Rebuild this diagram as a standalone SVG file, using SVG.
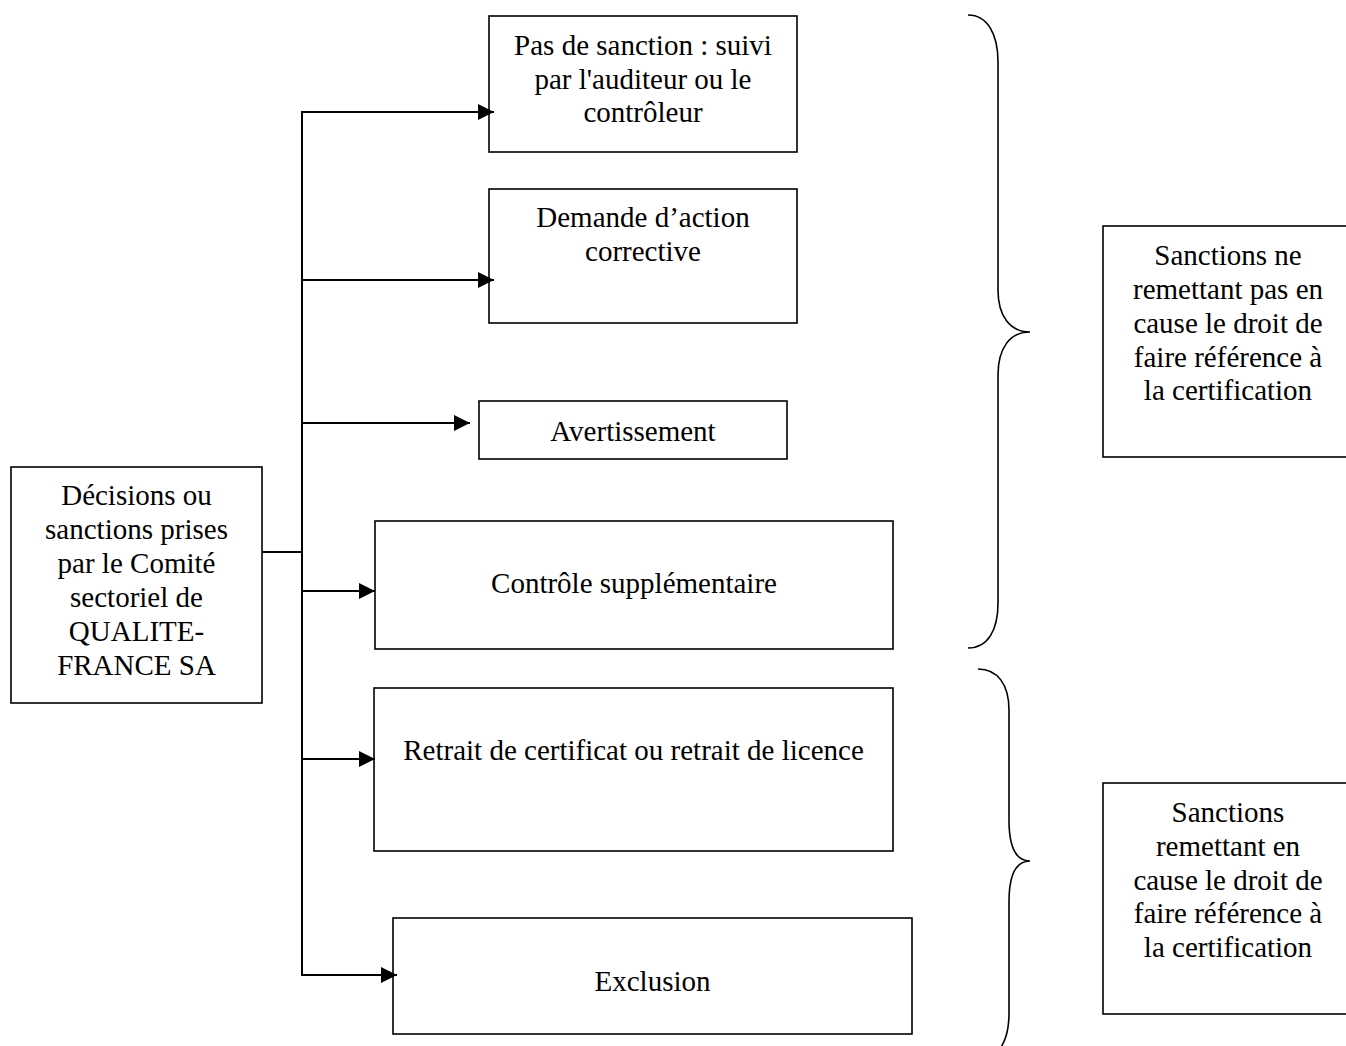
<svg xmlns="http://www.w3.org/2000/svg" width="1346" height="1046" viewBox="0 0 1346 1046">
<style>
.box{fill:#fff;stroke:#000;stroke-width:1.6}
.t{font-family:"Liberation Serif","Times New Roman",serif;font-size:29px;fill:#000;text-anchor:middle}
.c{fill:none;stroke:#000;stroke-width:2}
.br{fill:none;stroke:#000;stroke-width:1.6}
</style>
<defs>
<marker id="ah" markerWidth="18" markerHeight="18" refX="16" refY="9" orient="auto" markerUnits="userSpaceOnUse" overflow="visible">
<path d="M0,1 L16,9 L0,17 Z" fill="#000"/>
</marker>
</defs>
<rect width="1346" height="1046" fill="#fff"/>

<g id="source">
<rect class="box" x="11" y="467" width="251" height="236"/>
<text class="t" x="136.5" y="505">Décisions ou</text>
<text class="t" x="136.5" y="539">sanctions prises</text>
<text class="t" x="136.5" y="573">par le Comité</text>
<text class="t" x="136.5" y="607">sectoriel de</text>
<text class="t" x="136.5" y="641">QUALITE-</text>
<text class="t" x="136.5" y="675">FRANCE SA</text>
</g>

<g id="pas-de-sanction">
<rect class="box" x="489" y="16" width="308" height="136"/>
<text class="t" x="643" y="55">Pas de sanction : suivi</text>
<text class="t" x="643" y="89">par l'auditeur ou le</text>
<text class="t" x="643" y="122">contrôleur</text>
</g>

<g id="demande">
<rect class="box" x="489" y="189" width="308" height="134"/>
<text class="t" x="643" y="227">Demande d’action</text>
<text class="t" x="643" y="261">corrective</text>
</g>

<g id="avertissement">
<rect class="box" x="479" y="401" width="308" height="58"/>
<text class="t" x="633" y="441">Avertissement</text>
</g>

<g id="controle">
<rect class="box" x="375" y="521" width="518" height="128"/>
<text class="t" x="634" y="593">Contrôle supplémentaire</text>
</g>

<g id="retrait">
<rect class="box" x="374" y="688" width="519" height="163"/>
<text class="t" x="633.5" y="760">Retrait de certificat ou retrait de licence</text>
</g>

<g id="exclusion">
<rect class="box" x="393" y="918" width="519" height="116"/>
<text class="t" x="652.5" y="991">Exclusion</text>
</g>

<g id="brace-1">
<path class="br" d="M968,15 C988,15 998,35 998,62 L998,290 C998,316 1010,332 1030,332 C1010,332 998,348 998,375 L998,603 C998,630 988,648 968,648"/>
</g>

<g id="brace-2">
<path class="br" d="M978,669 C998,669 1009,685 1009,710 L1009,820 C1009,845 1015,861 1030,861 C1015,861 1009,877 1009,902 L1009,1012 C1009,1032 1005,1042 998,1052"/>
</g>

<g id="groupe-1">
<rect class="box" x="1103" y="226" width="260" height="231"/>
<text class="t" x="1228" y="265">Sanctions ne</text>
<text class="t" x="1228" y="299">remettant pas en</text>
<text class="t" x="1228" y="333">cause le droit de</text>
<text class="t" x="1228" y="367">faire référence à</text>
<text class="t" x="1228" y="400">la certification</text>
</g>

<g id="groupe-2">
<rect class="box" x="1103" y="783" width="260" height="231"/>
<text class="t" x="1228" y="822">Sanctions</text>
<text class="t" x="1228" y="856">remettant en</text>
<text class="t" x="1228" y="890">cause le droit de</text>
<text class="t" x="1228" y="923">faire référence à</text>
<text class="t" x="1228" y="957">la certification</text>
</g>

<g id="connectors">
<line class="c" x1="262" y1="552" x2="302" y2="552"/>
<line class="c" x1="302" y1="111" x2="302" y2="976"/>
<line class="c" x1="301" y1="112" x2="494" y2="112" marker-end="url(#ah)"/>
<line class="c" x1="301" y1="280" x2="494" y2="280" marker-end="url(#ah)"/>
<line class="c" x1="301" y1="423" x2="470" y2="423" marker-end="url(#ah)"/>
<line class="c" x1="301" y1="591" x2="375" y2="591" marker-end="url(#ah)"/>
<line class="c" x1="301" y1="759" x2="375" y2="759" marker-end="url(#ah)"/>
<line class="c" x1="301" y1="975" x2="397" y2="975" marker-end="url(#ah)"/>
</g>
</svg>
